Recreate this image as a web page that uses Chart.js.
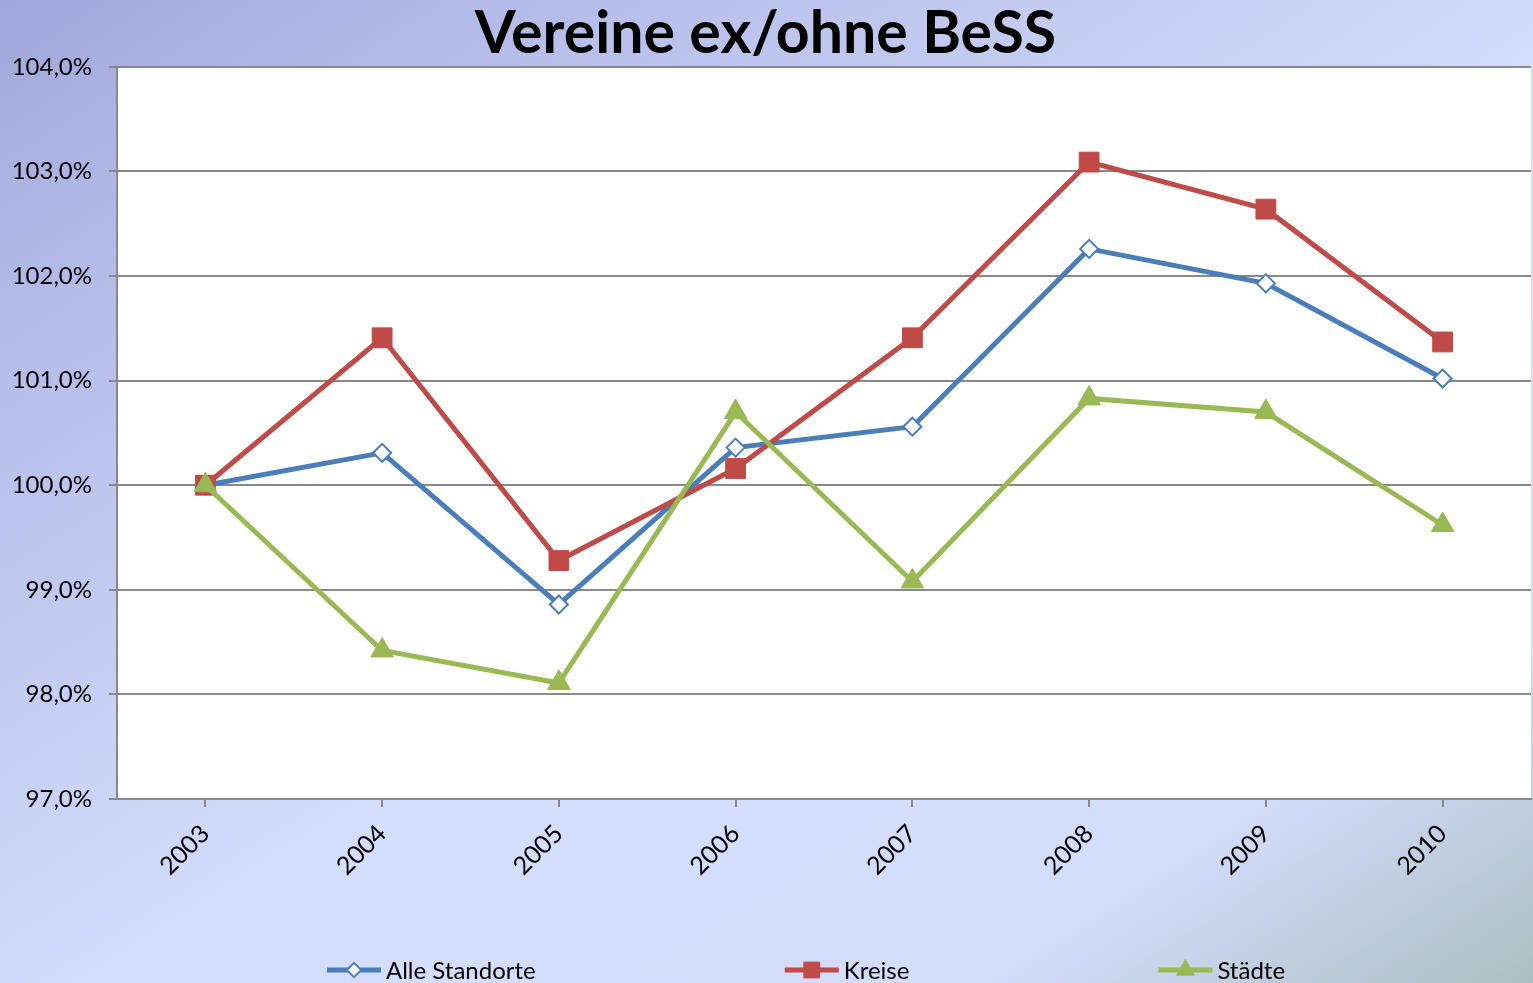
<!DOCTYPE html>
<html lang="de">
<head>
<meta charset="UTF-8">
<title>Vereine ex/ohne BeSS</title>
<script src="https://cdn.jsdelivr.net/npm/chart.js"></script>
<style>
  html, body { margin: 0; padding: 0; }
  #wrap { width: 1533px; height: 983px; }
</style>
</head>
<body>
<div id="wrap"><canvas id="chart" width="1533" height="983"></canvas></div>
<script>
// data
const years = ['2003', '2004', '2005', '2006', '2007', '2008', '2009', '2010'];
const alleStandorte = [100.0, 100.31, 98.86, 100.36, 100.56, 102.26, 101.93, 101.02];
const kreise = [100.0, 101.41, 99.28, 100.16, 101.41, 103.09, 102.64, 101.37];
const staedte = [100.0, 98.42, 98.11, 100.70, 99.08, 100.83, 100.70, 99.62];

const FONT = 'Lato, "Open Sans", sans-serif';

// gradient page background + white plot area
const backdrop = {
  id: 'backdrop',
  beforeDraw(chart) {
    const { ctx, width, height, chartArea } = chart;
    const k = 2 * width * height / (width * width + height * height);
    const g = ctx.createLinearGradient(0, 0, k * height, k * width);
    g.addColorStop(0, '#a1a6db');
    g.addColorStop(0.15, '#b3b9e6');
    g.addColorStop(0.4, '#c8d0f5');
    g.addColorStop(0.55, '#d4defe');
    g.addColorStop(0.82, '#d3dcfb');
    g.addColorStop(1, '#adbfc2');
    ctx.save();
    ctx.fillStyle = g;
    ctx.fillRect(0, 0, width, height);
    ctx.fillStyle = '#ffffff';
    ctx.fillRect(chartArea.left, chartArea.top, chartArea.right - chartArea.left, chartArea.bottom - chartArea.top);
    ctx.restore();
  }
};

// legend with line + marker like the office original
const lineLegend = {
  id: 'lineLegend',
  afterDraw(chart) {
    const ctx = chart.ctx;
    const y = 970;
    let x = chart.chartArea.left + 210;
    ctx.save();
    ctx.font = '24px ' + FONT;
    ctx.textBaseline = 'middle';
    chart.data.datasets.forEach(ds => {
      ctx.strokeStyle = ds.borderColor;
      ctx.lineWidth = 5;
      ctx.beginPath();
      ctx.moveTo(x, y);
      ctx.lineTo(x + 54, y);
      ctx.stroke();
      ctx.fillStyle = ds.pointBackgroundColor;
      ctx.strokeStyle = ds.pointBorderColor;
      ctx.lineWidth = ds.pointBorderWidth;
      Chart.helpers.drawPoint(ctx, {
        pointStyle: ds.pointStyle,
        radius: ds.pointRadius * 0.8,
        rotation: 0,
        borderWidth: ds.pointBorderWidth
      }, x + 27, y);
      ctx.fillStyle = '#000';
      ctx.fillText(ds.label, x + 59, y + 1);
      x += 59 + ctx.measureText(ds.label).width + 249;
    });
    ctx.restore();
  }
};

new Chart(document.getElementById('chart'), {
  type: 'line',
  data: {
    labels: years,
    datasets: [{
      label: 'Alle Standorte',
      data: alleStandorte,
      borderColor: '#4a7ebb',
      pointStyle: 'rectRot',
      pointRadius: 9,
      pointBackgroundColor: '#ffffff',
      pointBorderColor: '#4a7ebb',
      pointBorderWidth: 2,
      order: 3
    }, {
      label: 'Kreise',
      data: kreise,
      borderColor: '#be4b48',
      pointStyle: 'rect',
      pointRadius: 14,
      pointBackgroundColor: '#be4b48',
      pointBorderColor: '#be4b48',
      pointBorderWidth: 1,
      order: 2
    }, {
      label: 'Städte',
      data: staedte,
      borderColor: '#98b954',
      pointStyle: 'triangle',
      pointRadius: 13,
      pointBackgroundColor: '#98b954',
      pointBorderColor: '#98b954',
      pointBorderWidth: 1,
      order: 1
    }]
  },
  options: {
    responsive: false,
    animation: false,
    events: [],
    layout: { autoPadding: false, padding: { top: 0, right: 2, bottom: 0, left: 0 } },
    elements: {
      line: { borderWidth: 5, tension: 0 },
      point: { hoverRadius: 9 }
    },
    plugins: {
      legend: { display: false },
      tooltip: { enabled: false },
      title: {
        display: true,
        text: 'Vereine ex/ohne BeSS',
        color: '#000',
        font: { family: FONT, size: 59, weight: 'bold', lineHeight: 1.1 },
        padding: { top: 2, bottom: 0 }
      }
    },
    scales: {
      x: {
        offset: true,
        afterFit(scale) { scale.height = 184; scale.paddingRight = 0; },
        grid: { drawOnChartArea: false, drawTicks: true, tickLength: 8, color: '#898989', lineWidth: 2 },
        border: { color: '#898989', width: 2 },
        ticks: {
          color: '#000',
          font: { family: FONT, size: 25 },
          maxRotation: 45,
          minRotation: 45,
          padding: 12,
          autoSkip: false
        }
      },
      y: {
        min: 97,
        max: 104,
        afterFit(scale) { scale.width = 117; },
        grid: { color: '#898989', lineWidth: 2, tickLength: 8 },
        border: { color: '#898989', width: 2 },
        ticks: {
          stepSize: 1,
          color: '#000',
          font: { family: FONT, size: 24 },
          padding: 17,
          callback: v => v.toFixed(1).replace('.', ',') + '%'
        }
      }
    }
  },
  plugins: [backdrop, lineLegend]
});
</script>
</body>
</html>
